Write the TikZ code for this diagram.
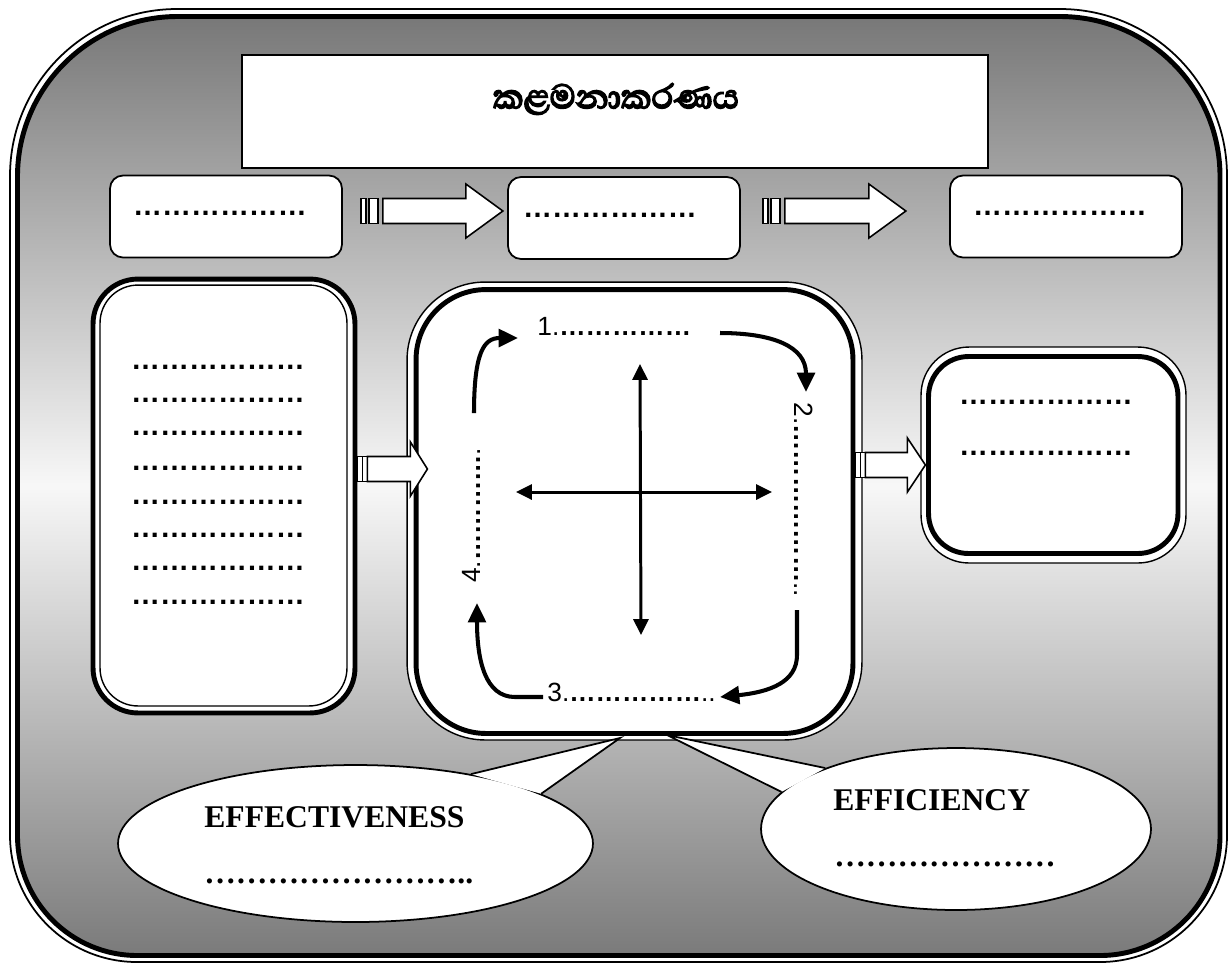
\documentclass[tikz,border=0pt]{standalone}
\usepackage{fontspec}
\setmainfont{Liberation Serif}
\setsansfont{Liberation Sans}
\newfontfamily\sinhalafont[Script=Sinhala, FakeBold=4]{Abhaya Libre}
\usetikzlibrary{arrows.meta, positioning, shapes.geometric}

\newcommand{\dotfont}{\sffamily\bfseries\fontsize{16.5}{18}\selectfont}
\newcommand{\numfont}{\sffamily\fontsize{15}{17}\selectfont}
\newcommand{\bubblefont}{\rmfamily\bfseries\fontsize{18}{20}\selectfont}
\newcommand{\titlefont}{\sinhalafont\fontsize{24.5}{28}\selectfont}
\newcommand{\dotsof}[1]{{\bfseries\foreach \k in {1,...,#1}{…}}}
% rounded frame: left, top, right, bottom, top radius, bottom radius
\newcommand{\framepath}[6]{(#1,#2+#5) .. controls (#1,#2+0.448*#5) and (#1+0.448*#5,#2) .. (#1+#5,#2)
  -- (#3-#5,#2) .. controls (#3-0.448*#5,#2) and (#3,#2+0.448*#5) .. (#3,#2+#5)
  -- (#3,#4-#6) .. controls (#3,#4-0.448*#6) and (#3-0.448*#6,#4) .. (#3-#6,#4)
  -- (#1+#6,#4) .. controls (#1+0.448*#6,#4) and (#1,#4-0.448*#6) .. (#1,#4-#6) -- cycle}

\tikzset{
  pics/fatarrow/.style n args={5}{code={
    \draw[fatbody] (0,-12.5) rectangle (5,12.5);
    \draw[fatbody] (#4,-12.5) rectangle (#5,12.5);
    \draw[fatbody] (#3,-12.5) -- (#1-#2,-12.5) -- (#1-#2,-27) -- (#1,0)
                   -- (#1-#2,27) -- (#1-#2,12.5) -- (#3,12.5) -- cycle;
  }}
}

\begin{document}
\begin{tikzpicture}[x=0.02cm, y=-0.02cm,
    titlebox/.style={draw, fill=white, line width=1.2pt, minimum width=14.92cm, minimum height=2.26cm, inner sep=0pt},
    stagebox/.style={draw, fill=white, line width=1pt, rounded corners=0.26cm, minimum width=4.64cm, minimum height=1.64cm, inner sep=0pt},
    heavybox/.style={draw, fill=white, line width=2.8pt, inner sep=0pt},
    rimbox/.style={draw, fill=white, line width=0.8pt, inner sep=0pt},
    dotline/.style={font=\dotfont, inner sep=0pt},
    numline/.style={font=\numfont, inner sep=0pt},
    bubble/.style={ellipse, draw, fill=white, line width=1pt, inner sep=0pt},
    bubbletext/.style={font=\bubblefont, inner sep=0pt},
    fatbody/.style={draw, fill=white, line width=0.9pt, line join=miter},
    cyclearrow/.style={line width=2.3pt, -{Triangle[length=11pt,width=10pt]}},
    axisarrow/.style={line width=1.7pt, {Triangle[length=9pt,width=8.5pt]}-{Triangle[length=9pt,width=8.5pt]}}]

  \useasboundingbox (0,0) rectangle (1230,965);

  % outer frame
  \shade[top color=black!53, bottom color=black!52, middle color=black!3]
        \framepath{17.5}{16.5}{1220}{955.5}{160}{120};
  \draw[line width=2.8pt] \framepath{17.5}{16.5}{1220}{955.5}{160}{120};
  \draw[line width=1pt] \framepath{10}{9}{1227}{962}{167}{127};

  % title
  \node[titlebox] (title) at (615,111.5) {};
  \node[font=\titlefont, inner sep=0pt] (titlename) at (616,99) {කළමනාකරණය};

  % three stages
  \node[stagebox] (stage1) at (226,216.5) {};
  \node[stagebox] (stage2) at (624,218) {};
  \node[stagebox] (stage3) at (1066,216.5) {};
  \node[dotline] (stage1dots) at (220,213) {\dotsof{6}};
  \node[dotline] (stage2dots) at (610,215) {\dotsof{6}};
  \node[dotline] (stage3dots) at (1060,213) {\dotsof{6}};

  % inputs
  \node[heavybox, rounded corners=0.9cm, minimum width=5.24cm, minimum height=8.68cm] (inbox) at (224,496) {};
  \node[rimbox, rounded corners=0.76cm, minimum width=4.94cm, minimum height=8.42cm] (inrim) at (223.5,495.5) {};
  \foreach \y [count=\i] in {367,400,433,468,502,535,568,602}
    \node[dotline] (inline\i) at (218,\y) {\dotsof{6}};

  % process
  \node[rimbox, rounded corners=1.56cm, minimum width=9.1cm, minimum height=9.16cm] (taskrim) at (634.5,511) {};
  \node[heavybox, rounded corners=1.4cm, minimum width=8.74cm, minimum height=8.88cm] (task) at (634.5,511.5) {};

  % outputs
  \node[rimbox, rounded corners=0.96cm, minimum width=5.3cm, minimum height=4.32cm] (outrim) at (1053.5,455) {};
  \node[heavybox, rounded corners=0.8cm, minimum width=4.99cm, minimum height=3.94cm] (outbox) at (1053.25,455) {};
  \node[dotline] (outline1) at (1046,402) {\dotsof{6}};
  \node[dotline] (outline2) at (1046,453) {\dotsof{6}};

  % cycle labels
  \node[numline, anchor=base west] (step1) at (537,335) {1.\dotsof{5}};
  \node[numline, anchor=base west, rotate=-90] (step2) at (794,402) {2.\dotsof{6}..};
  \node[numline, anchor=base west] (step3) at (547,701) {3.\dotsof{5}..};
  \node[numline, anchor=base west, rotate=90] (step4) at (480,583) {4.\dotsof{4}.};

  \draw[cyclearrow] (474,413) .. controls (474,352) and (484,338) .. (518,338);
  \draw[cyclearrow] (720,333) .. controls (772,333) and (806,346) .. (806,392);
  \draw[cyclearrow] (797,610) -- (797,655) .. controls (797,682) and (770,692) .. (720,697);
  \draw[cyclearrow] (543,697) -- (515,697) .. controls (485,697) and (477,660) .. (477,603);

  % cross
  \coordinate (axisW) at (516,492);
  \coordinate (axisE) at (772,492);
  \coordinate (axisN) at (640,364);
  \coordinate (axisS) at (641,635);
  \draw[axisarrow] (axisW) -- (axisE);
  \draw[axisarrow] (axisN) -- (axisS);

  % block arrows
  \pic at ([shift={(18,-5.5)}]stage1.east) {fatarrow={142}{37}{22}{8}{17}};
  \pic at ([shift={(22,-7)}]stage2.east) {fatarrow={143}{37}{22}{8}{17}};
  \pic at ([shift={(0,-27)}]inbox.east) {fatarrow={70}{17}{10}{5}{10}};
  \pic at ([shift={(0,-46.5)}]task.east) {fatarrow={70}{18}{10}{5}{10}};

  % callouts
  \node[bubble, minimum width=9.5cm, minimum height=3.14cm] (effect) at (355.5,843.5) {};
  \coordinate (effecttip) at (620,738);
  \filldraw[fill=white, draw=none] (effect.31) -- (effecttip) -- (effect.15) -- cycle;
  \draw[line width=1pt, line join=miter] (effect.31) -- (effecttip) -- (effect.15);
  \node[bubbletext, anchor=base west] (effectname) at (204,827) {EFFECTIVENESS};
  \node[bubbletext, anchor=base west] (effectdots) at (204,883) {\dotsof{8}..};

  \node[bubble, minimum width=7.8cm, minimum height=3.24cm] (effic) at (956,829) {};
  \coordinate (effictip) at (667,735);
  \filldraw[fill=white, draw=none] (effic.155) -- (effictip) -- (effic.168) -- cycle;
  \draw[line width=1pt, line join=miter] (effic.155) -- (effictip) -- (effic.168);
  \node[bubbletext, anchor=base west] (efficname) at (833,810) {EFFICIENCY};
  \node[bubbletext, anchor=base west] (efficdots) at (834,866) {\dotsof{7}};
\end{tikzpicture}
\end{document}
